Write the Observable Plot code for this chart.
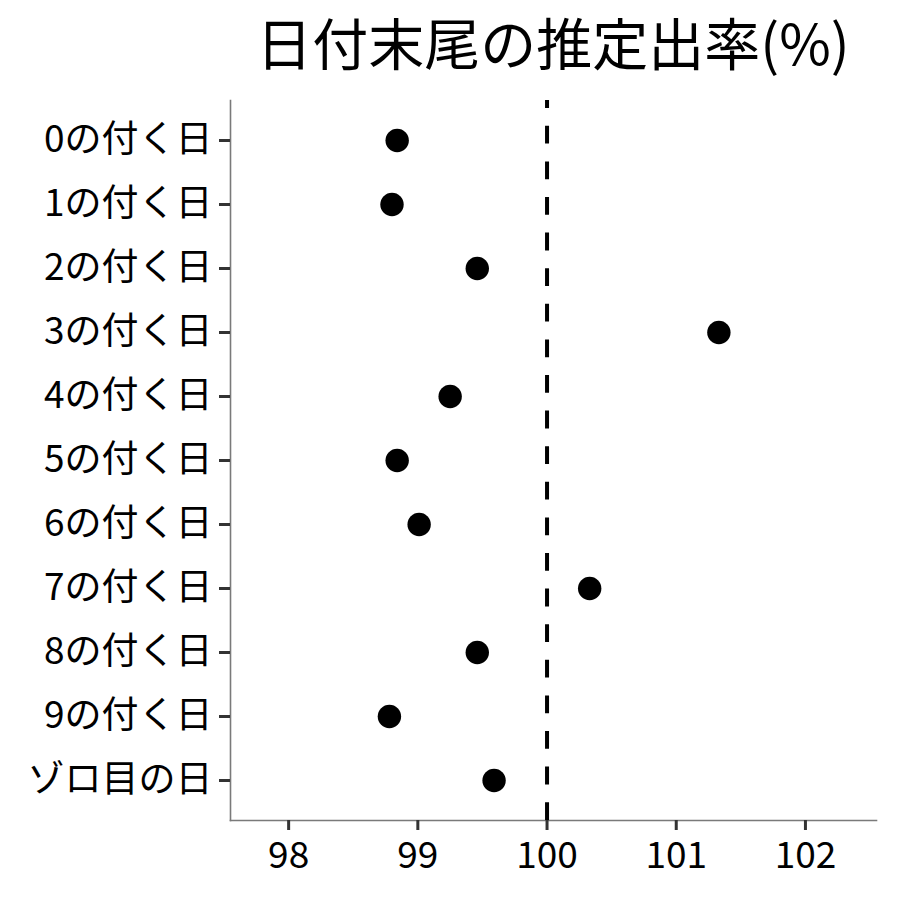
<!DOCTYPE html>
<html>
<head>
<meta charset="utf-8">
<script src="https://cdn.jsdelivr.net/npm/d3@7"></script>
<script src="https://cdn.jsdelivr.net/npm/@observablehq/plot@0.6"></script>
<style>
  html, body { margin: 0; padding: 0; background: white; }
  #wrap { width: 900px; height: 900px; position: relative; overflow: hidden; }
  #title {
    width: 900px; height: 90px; box-sizing: border-box;
    padding-left: 206px; text-align: center;
    font-family: "Noto Sans CJK JP", sans-serif; font-size: 56px; line-height: 82px;
    color: black; white-space: nowrap;
  }
</style>
</head>
<body>
<div id="wrap">
  <div id="title">日付末尾の推定出率(%)</div>
  <div id="chart"></div>
</div>
<script>
const titleText = "日付末尾の推定出率(%)";
const categories = ["0の付く日", "1の付く日", "2の付く日", "3の付く日", "4の付く日", "5の付く日", "6の付く日", "7の付く日", "8の付く日", "9の付く日", "ゾロ目の日"];
const values = [98.84, 98.80, 99.46, 101.33, 99.25, 98.84, 99.01, 100.33, 99.46, 98.78, 99.59];
const xTicks = [98, 99, 100, 101, 102];
const refValue = [100];

document.getElementById("title").textContent = titleText;
const data = categories.map((c, i) => ({cat: c, value: values[i]}));

const chart = Plot.plot({
  width: 900,
  height: 810,
  marginLeft: 230,
  marginRight: 24,
  marginTop: 10,
  marginBottom: 80,
  style: {fontFamily: "'Noto Sans CJK JP', sans-serif", background: "white", color: "black"},
  x: {domain: [97.55, 102.55], axis: null},
  y: {type: "point", domain: categories, padding: 0.6, axis: null},
  marks: [
    Plot.frame({anchor: "left", stroke: "#7a7a7a", strokeWidth: 1.6}),
    Plot.frame({anchor: "bottom", stroke: "#7a7a7a", strokeWidth: 1.6}),
    Plot.ruleX(refValue, {stroke: "black", strokeWidth: 4, strokeDasharray: "17.8,17.8", strokeDashoffset: 9.8}),
    Plot.dot(data, {x: "value", y: "cat", r: 11.7, fill: "black", stroke: "none"}),
    Plot.axisX({ticks: xTicks, tickSize: 10, tickPadding: 11, fontSize: 37, stroke: "#333", strokeWidth: 3, fill: "black", label: null, tickFormat: d => String(d)}),
    Plot.axisY({tickSize: 11, tickPadding: 7, fontSize: 37, stroke: "#333", strokeWidth: 3, fill: "black", label: null})
  ]
});
document.getElementById("chart").appendChild(chart);
</script>
</body>
</html>
